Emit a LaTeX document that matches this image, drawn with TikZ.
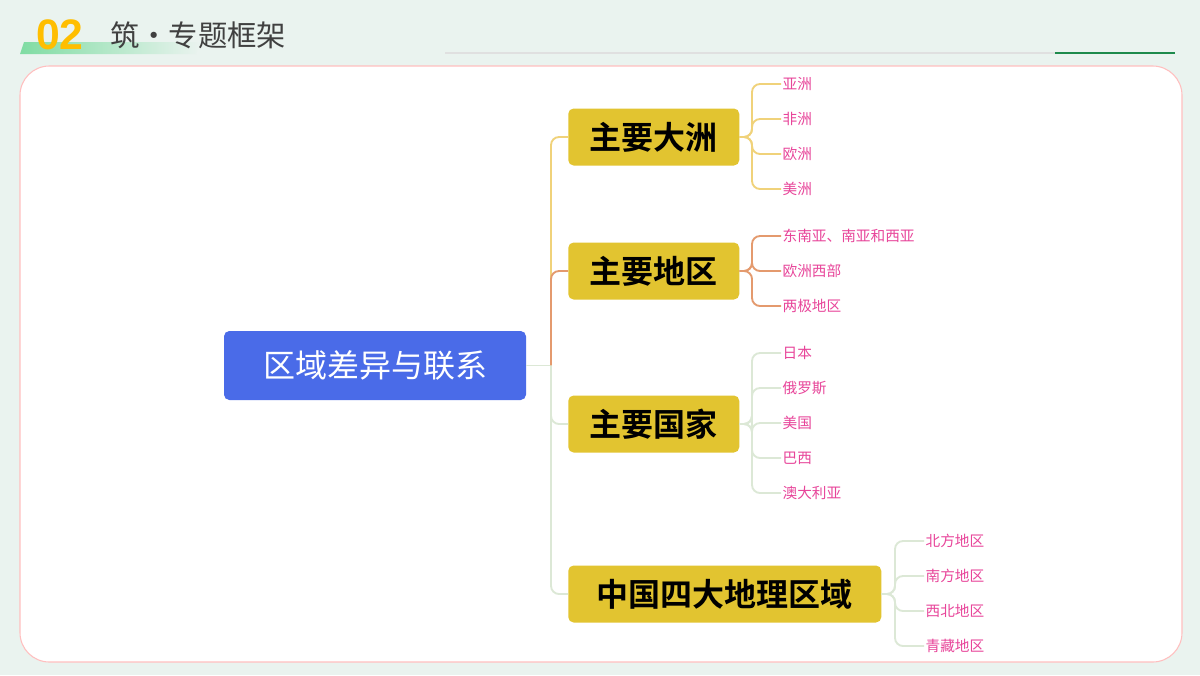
\documentclass[tikz,border=0pt]{standalone}
\usepackage{fontspec}
\setmainfont{Noto Sans CJK SC}
\newfontfamily\cjkb{Noto Sans CJK SC Bold}
\newfontfamily\latb{Liberation Sans}
\usetikzlibrary{shadings}
\definecolor{bgc}{HTML}{EAF3EF}
\definecolor{rootc}{HTML}{4A6BE8}
\definecolor{boxc}{HTML}{E2C430}
\definecolor{leafc}{HTML}{E8459A}
\definecolor{cy}{HTML}{F0D27A}
\definecolor{co}{HTML}{E49A6E}
\definecolor{cg}{HTML}{DCE8D6}
\definecolor{gr}{HTML}{1E8A4C}
\begin{document}
\begin{tikzpicture}[x=0.75pt,y=-0.75pt,
  br/.style={fill=boxc,rounded corners=4pt,text=black,font=\cjkb\fontsize{24}{24}\selectfont,anchor=west,inner sep=0pt,minimum height=42.75pt},
  leaf/.style={text=leafc,font=\fontsize{11}{11}\selectfont,anchor=west,inner sep=1pt},
  con/.style={line width=1.4pt,rounded corners=6pt}]
\useasboundingbox (0,0) rectangle (1200,675);
\fill[bgc] (0,0) rectangle (1200,675);
\fill[white,draw=red!25,line width=0.8pt,rounded corners=22pt] (20,66) rectangle (1182,662);
% header
\shade[left color=green!45!teal!50,right color=bgc] (24,42) -- (200,42) -- (196,54) -- (20,54) -- cycle;
\node[anchor=west,inner sep=0pt,text={rgb,255:red,255;green,190;blue,0},font=\latb\bfseries\fontsize{32}{32}\selectfont] (num) at (36,35) {02};
\node[anchor=west,inner sep=0pt,text=black!75,font=\fontsize{22}{22}\selectfont] (title) at (110,35) {筑·专题框架};
\draw[black!12,line width=0.8pt] (445,53) -- (1055,53);
\draw[gr,line width=2pt] (1055,53) -- (1175,53);
% root
\node[fill=rootc,rounded corners=4pt,text=white,font=\fontsize{24}{24}\selectfont,minimum width=226.5pt,minimum height=51.75pt,inner sep=0pt] (root) at (375,365.5) {区域差异与联系};
% branches
\node[br,minimum width=128.25pt] (b1) at (568,137) {\hspace*{0pt}\makebox[128.25pt]{主要大洲}};
\node[br,minimum width=128.25pt] (b2) at (568,271) {\makebox[128.25pt]{主要地区}};
\node[br,minimum width=128.25pt] (b3) at (568,424) {\makebox[128.25pt]{主要国家}};
\node[br,minimum width=234.75pt] (b4) at (568,594) {\makebox[234.75pt]{中国四大地理区域}};
\coordinate (j) at (551,365.5);
\draw[cg,line width=1.4pt] (root.east) -- (j);
\draw[con,cy] (j) -- (551,137) -- (b1.west);
\draw[con,co] (j) -- (551,271) -- (b2.west);
\draw[con,cg] (j) -- (551,424) -- (b3.west);
\draw[con,cg] (j) -- (551,594) -- (b4.west);
% leaves
\foreach \t [count=\i] in {亚洲,非洲,欧洲,美洲}{
  \node[leaf] (l1\i) at (781,{84+35*(\i-1)}) {\t};
  \draw[con,cy] (b1.east) -- (752,137) -- (752,{84+35*(\i-1)}) -- (l1\i.west);}
\foreach \t [count=\i] in {东南亚、南亚和西亚,欧洲西部,两极地区}{
  \node[leaf] (l2\i) at (781,{236+35*(\i-1)}) {\t};
  \draw[con,co] (b2.east) -- (752,271) -- (752,{236+35*(\i-1)}) -- (l2\i.west);}
\foreach \t [count=\i] in {日本,俄罗斯,美国,巴西,澳大利亚}{
  \node[leaf] (l3\i) at (781,{353+35*(\i-1)}) {\t};
  \draw[con,cg] (b3.east) -- (752,424) -- (752,{353+35*(\i-1)}) -- (l3\i.west);}
\foreach \t [count=\i] in {北方地区,南方地区,西北地区,青藏地区}{
  \node[leaf] (l4\i) at (924,{541+35*(\i-1)}) {\t};
  \draw[con,cg] (b4.east) -- (895,594) -- (895,{541+35*(\i-1)}) -- (l4\i.west);}
\end{tikzpicture}
\end{document}
